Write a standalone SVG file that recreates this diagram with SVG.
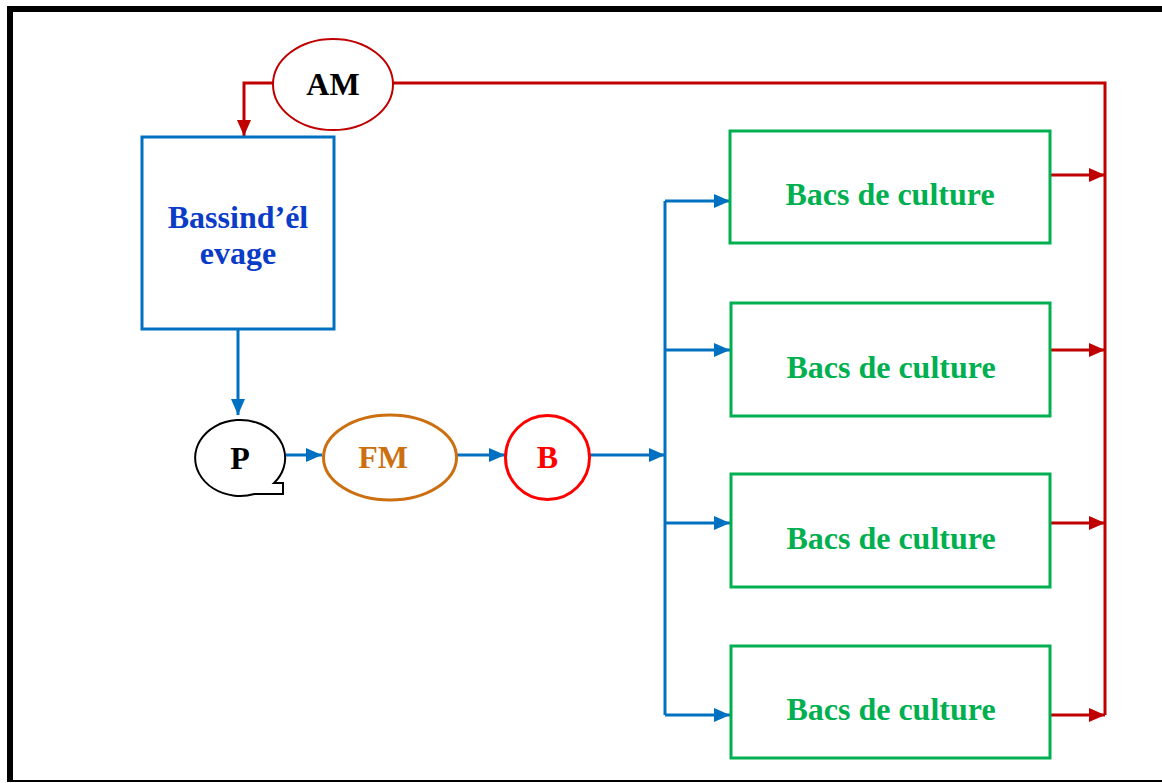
<svg xmlns="http://www.w3.org/2000/svg" width="1162" height="783" viewBox="0 0 1162 783">
<style>
.t{font-family:"Liberation Serif","Times New Roman",serif;font-weight:bold;font-size:32px;text-anchor:middle}
.bl{stroke:#0070C0;stroke-width:3;fill:none}
.rd{stroke:#C00000;stroke-width:3;fill:none}
.gb{fill:#fff;stroke:#00B050;stroke-width:3}
.gt{fill:#00B050}
</style>
<defs>
<marker id="ab" markerUnits="userSpaceOnUse" markerWidth="16" markerHeight="14" refX="16" refY="7" orient="auto"><path d="M0,0 L16,7 L0,14 Z" fill="#0070C0"/></marker>
<marker id="ar" markerUnits="userSpaceOnUse" markerWidth="16" markerHeight="14" refX="16" refY="7" orient="auto"><path d="M0,0 L16,7 L0,14 Z" fill="#C00000"/></marker>
</defs>
<rect width="1162" height="783" fill="#fff"/>
<g id="frame">
<rect x="7" y="6" width="1160" height="6" fill="#000"/>
<rect x="7" y="6" width="6" height="776" fill="#000"/>
<rect x="7" y="780" width="1160" height="2" fill="#000"/>
</g>
<g id="connectors">
<path class="rd" d="M273,83 H244 V136" marker-end="url(#ar)"/>
<path class="rd" d="M393,83 H1105 V715"/>
<path class="bl" d="M238,330 V415" marker-end="url(#ab)"/>
<path class="bl" d="M286,455 H322" marker-end="url(#ab)"/>
<path class="bl" d="M457,455 H505" marker-end="url(#ab)"/>
<path class="bl" d="M590,455 H665" marker-end="url(#ab)"/>
<path class="bl" d="M665,201 V715"/>
<path class="bl" d="M665,201 H730" marker-end="url(#ab)"/>
<path class="bl" d="M665,350 H730" marker-end="url(#ab)"/>
<path class="bl" d="M665,523 H730" marker-end="url(#ab)"/>
<path class="bl" d="M665,715 H730" marker-end="url(#ab)"/>
<path class="rd" d="M1050,175 H1105" marker-end="url(#ar)"/>
<path class="rd" d="M1050,350 H1105" marker-end="url(#ar)"/>
<path class="rd" d="M1050,523 H1105" marker-end="url(#ar)"/>
<path class="rd" d="M1050,715 H1105" marker-end="url(#ar)"/>
</g>
<g id="AM">
<ellipse cx="333" cy="84.5" rx="60" ry="45.5" fill="#fff" stroke="#C00000" stroke-width="2"/>
<text class="t" x="333" y="95" fill="#000">AM</text>
</g>
<g id="bassin">
<rect x="142" y="137" width="192" height="192" fill="#fff" stroke="#0070C0" stroke-width="3"/>
<text class="t" x="238" y="228" fill="#0A3CC8">Bassind’él</text>
<text class="t" x="238" y="264" fill="#0A3CC8">evage</text>
</g>
<g id="P">
<path d="M274,483 A45,38 0 1 0 254.4,494 L283,494 L283,483 Z" fill="#fff" stroke="#000" stroke-width="2"/>
<text class="t" x="240" y="469" fill="#000">P</text>
</g>
<g id="FM">
<ellipse cx="390" cy="457.5" rx="66.5" ry="42.5" fill="#fff" stroke="#CC6F10" stroke-width="3"/>
<text class="t" x="383" y="468" fill="#CC6F10">FM</text>
</g>
<g id="B">
<circle cx="547.5" cy="457.5" r="42" fill="#fff" stroke="#FF0000" stroke-width="3"/>
<text class="t" x="547.5" y="468" fill="#FF0000">B</text>
</g>
<g id="bac1">
<rect class="gb" x="730" y="131" width="320" height="112"/>
<text class="t gt" x="890" y="205">Bacs de culture</text>
</g>
<g id="bac2">
<rect class="gb" x="731" y="303" width="319" height="113"/>
<text class="t gt" x="891" y="378">Bacs de culture</text>
</g>
<g id="bac3">
<rect class="gb" x="731" y="474" width="319" height="113"/>
<text class="t gt" x="891" y="549">Bacs de culture</text>
</g>
<g id="bac4">
<rect class="gb" x="731" y="646" width="319" height="112"/>
<text class="t gt" x="891" y="720">Bacs de culture</text>
</g>
</svg>
